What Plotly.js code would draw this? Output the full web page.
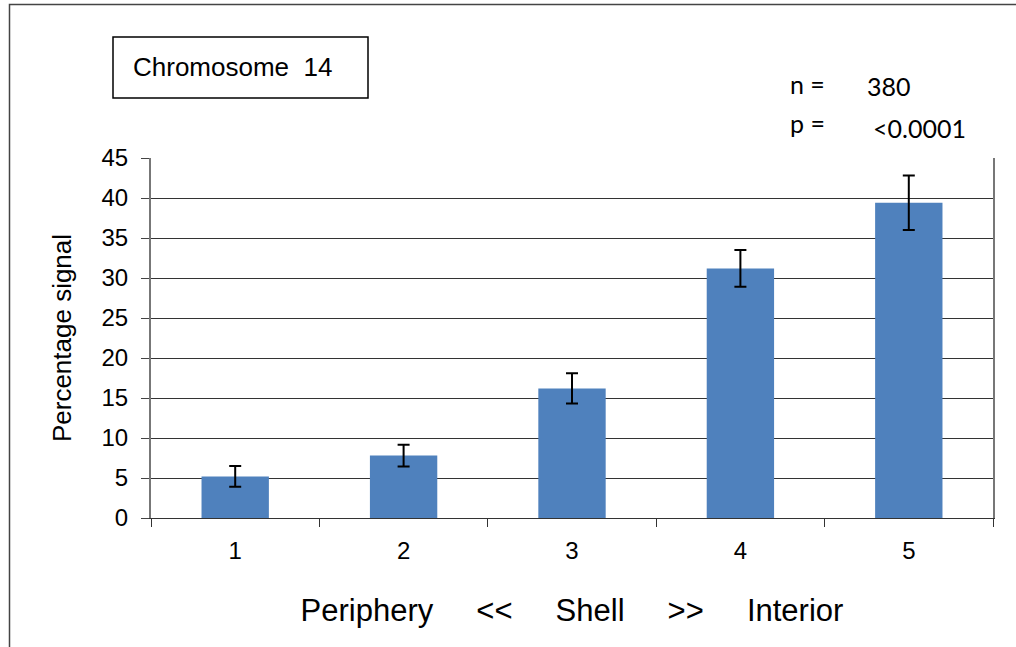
<!DOCTYPE html>
<html>
<head>
<meta charset="utf-8">
<script src="https://cdn.plot.ly/plotly-3.0.1.min.js"></script>
<style>html,body{margin:0;padding:0;background:#fff;}#chart{width:1016px;height:647px;}</style>
</head>
<body>
<div id="chart"></div>
<script>
// Data
var categories = ['1', '2', '3', '4', '5'];
var percentageSignal = [5.2, 7.8, 16.2, 31.2, 39.4];
var errorValues = [1.3, 1.35, 1.9, 2.3, 3.4];
var yTickValues = [0, 5, 10, 15, 20, 25, 30, 35, 40, 45];
var xTitleWords = ['Periphery', '<<', 'Shell', '>>', 'Interior'];
var chartLabel = 'Chromosome  14';
var nLabel = 'n =';
var nValue = '380';
var pLabel = 'p =';
var pValue = '<0.0001';

// layout geometry (pixels)
var W = 1016, H = 647;
var L = 151, R = 993, T = 158, B = 518;
function px(x) { return (x - L) / (R - L); }
function py(y) { return (B - y) / (B - T); }

var NB = '\u00A0';
function sp(n) { return NB.repeat(n); }

var trace = {
  type: 'bar',
  x: categories,
  y: percentageSignal,
  marker: { color: '#4F81BD', line: { width: 0 } },
  error_y: { type: 'data', array: errorValues, visible: true, color: '#000000', thickness: 2, width: 6 },
  hoverinfo: 'x+y'
};

var layout = {
  width: W, height: H,
  margin: { l: L, r: W - R, t: T, b: H - B, pad: 0 },
  paper_bgcolor: '#ffffff',
  plot_bgcolor: '#ffffff',
  showlegend: false,
  bargap: 0.6,
  font: { family: 'Liberation Sans, Arial, sans-serif', color: '#000000' },
  xaxis: {
    type: 'category',
    tickson: 'boundaries',
    ticks: 'outside', ticklen: 8, tickcolor: '#333333', tickwidth: 1,
    showline: true, linecolor: '#333333', linewidth: 1,
    showgrid: false, zeroline: false,
    tickfont: { size: 24, family: 'Liberation Sans, Arial, sans-serif', color: '#000' },
    ticklabelstandoff: 11,
    title: { text: NB + NB + xTitleWords.join(sp(5)), font: { size: 31, family: 'Liberation Sans, Arial, sans-serif', color: '#000' }, standoff: 36 },
    fixedrange: true
  },
  yaxis: {
    range: [0, 45],
    tickvals: yTickValues,
    ticktext: yTickValues.map(String),
    ticks: 'outside', ticklen: 8, tickcolor: '#444444', tickwidth: 1,
    showline: true, mirror: true, linecolor: '#777777', linewidth: 2,
    showgrid: true, gridcolor: '#333333', gridwidth: 1,
    zeroline: false,
    tickfont: { size: 24, family: 'Liberation Sans, Arial, sans-serif', color: '#000' },
    ticklabelstandoff: 8,
    title: { text: 'Percentage signal', font: { size: 26, family: 'Liberation Sans, Arial, sans-serif', color: '#000' }, standoff: 22 },
    fixedrange: true
  },
  shapes: [
    // outer chart frame
    { type: 'rect', xref: 'paper', yref: 'paper', x0: px(9.5), x1: px(1040), y0: py(670), y1: py(4.5), line: { color: '#444444', width: 1.5 }, fillcolor: 'rgba(0,0,0,0)', layer: 'below' },
    // label box
    { type: 'rect', xref: 'paper', yref: 'paper', x0: px(113), x1: px(368), y0: py(98), y1: py(37), line: { color: '#000000', width: 1.5 }, fillcolor: '#ffffff' }
  ],
  annotations: [
    { xref: 'paper', yref: 'paper', x: px(232), y: py(67), text: chartLabel.replace(/ /g, NB), showarrow: false, xanchor: 'center', yanchor: 'middle', font: { size: 26, family: 'Liberation Sans, Arial, sans-serif', color: '#000' } },
    { xref: 'paper', yref: 'paper', x: px(807), y: py(84), text: nLabel, showarrow: false, xanchor: 'center', yanchor: 'middle', font: { size: 25, family: 'Lato, Open Sans, sans-serif', color: '#000' } },
    { xref: 'paper', yref: 'paper', x: px(888.5), y: py(86), text: nValue, showarrow: false, xanchor: 'center', yanchor: 'middle', font: { size: 25, family: 'Lato, Open Sans, sans-serif', color: '#000' } },
    { xref: 'paper', yref: 'paper', x: px(807), y: py(123), text: pLabel, showarrow: false, xanchor: 'center', yanchor: 'middle', font: { size: 25, family: 'Lato, Open Sans, sans-serif', color: '#000' } },
    { xref: 'paper', yref: 'paper', x: px(919.5), y: py(128), text: pValue, showarrow: false, xanchor: 'center', yanchor: 'middle', font: { size: 25, family: 'Lato, Open Sans, sans-serif', color: '#000' } }
  ]
};

Plotly.newPlot('chart', [trace], layout, { displayModeBar: false, staticPlot: true });
</script>
</body>
</html>
